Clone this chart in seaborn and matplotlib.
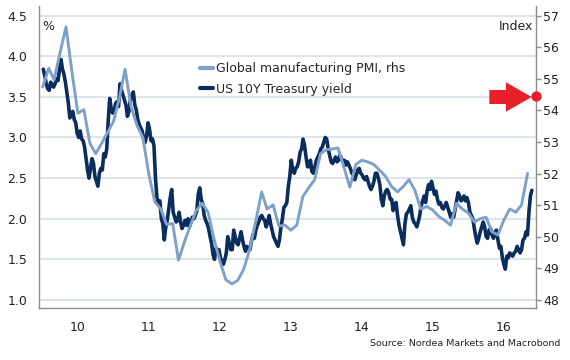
import numpy as np
import pandas as pd
import matplotlib
matplotlib.use("Agg")
import matplotlib.pyplot as plt
import matplotlib.dates as mdates
from matplotlib.lines import Line2D
from matplotlib.patches import FancyArrow
import seaborn as sns

# global manufacturing PMI, monthly Jan 2010 - Nov 2016 (index, rhs)
pmi_2010 = [54.74, 55.33, 54.97, 55.84, 56.64, 55.20, 53.91, 54.02, 52.96, 52.63, 52.96, 53.30]
pmi_2011 = [53.66, 54.43, 55.30, 54.12, 53.53, 53.14, 51.99, 51.11, 50.88, 50.39, 50.42, 49.26]
pmi_2012 = [49.85, 50.37, 50.83, 51.06, 50.78, 49.93, 49.23, 48.64, 48.51, 48.62, 48.98, 49.59]
pmi_2013 = [50.47, 51.42, 50.88, 51.01, 50.34, 50.37, 50.21, 50.37, 51.27, 51.55, 51.81, 52.63]
pmi_2014 = [52.76, 52.78, 52.81, 52.19, 51.57, 52.29, 52.42, 52.37, 52.29, 52.11, 51.91, 51.60]
pmi_2015 = [51.42, 51.60, 51.81, 51.47, 50.88, 50.96, 50.85, 50.65, 50.52, 50.37, 51.06, 50.88]
pmi_2016 = [50.75, 50.47, 50.57, 50.62, 50.16, 50.06, 50.52, 50.88, 50.78, 51.01, 52.01]

# US 10Y Treasury yield, roughly weekly (%)
yld_2010 = [3.84, 3.76, 3.66, 3.60, 3.58, 3.68, 3.64, 3.62, 3.66, 3.72, 3.70, 3.84,
            3.96, 3.84, 3.78, 3.68, 3.55, 3.42, 3.24, 3.30, 3.32, 3.22, 3.18, 3.05,
            3.00, 3.08, 2.98, 2.96, 2.88, 2.74, 2.60, 2.50, 2.62, 2.74, 2.68, 2.52,
            2.46, 2.40, 2.56, 2.62, 2.60, 2.80, 2.76, 2.86, 3.20, 3.48, 3.36, 3.30]
yld_2011 = [3.32, 3.42, 3.44, 3.38, 3.66, 3.58, 3.52, 3.46, 3.40, 3.26, 3.32, 3.46,
            3.52, 3.56, 3.40, 3.34, 3.22, 3.16, 3.12, 3.08, 2.98, 2.94, 3.02, 3.18,
            3.10, 2.96, 2.98, 2.90, 2.50, 2.26, 2.20, 2.22, 2.00, 1.94, 1.74, 1.90,
            1.98, 2.12, 2.26, 2.36, 2.08, 2.02, 1.96, 1.98, 2.08, 1.96, 1.88, 1.92]
yld_2012 = [1.98, 1.92, 2.00, 1.90, 1.96, 2.02, 2.00, 2.04, 2.10, 2.30, 2.38, 2.24,
            2.18, 2.04, 1.98, 1.94, 1.88, 1.78, 1.70, 1.56, 1.50, 1.64, 1.60, 1.62,
            1.52, 1.48, 1.44, 1.50, 1.58, 1.78, 1.70, 1.62, 1.62, 1.86, 1.78, 1.70,
            1.68, 1.76, 1.84, 1.74, 1.66, 1.60, 1.66, 1.64, 1.62, 1.72, 1.80, 1.76]
yld_2013 = [1.86, 1.92, 1.96, 2.02, 2.04, 2.00, 1.98, 1.90, 1.96, 2.04, 1.94, 1.86,
            1.78, 1.74, 1.70, 1.66, 1.74, 1.90, 2.00, 2.14, 2.16, 2.20, 2.40, 2.52,
            2.72, 2.60, 2.56, 2.62, 2.64, 2.70, 2.82, 2.86, 2.98, 2.90, 2.76, 2.64,
            2.64, 2.72, 2.58, 2.56, 2.64, 2.72, 2.76, 2.80, 2.86, 2.88, 2.94, 3.00]
yld_2014 = [2.98, 2.86, 2.78, 2.70, 2.68, 2.72, 2.76, 2.70, 2.72, 2.78, 2.74, 2.70,
            2.72, 2.66, 2.70, 2.66, 2.62, 2.56, 2.54, 2.48, 2.54, 2.60, 2.62, 2.56,
            2.54, 2.50, 2.48, 2.52, 2.46, 2.40, 2.36, 2.40, 2.46, 2.56, 2.56, 2.50,
            2.42, 2.24, 2.16, 2.28, 2.34, 2.36, 2.32, 2.24, 2.24, 2.10, 2.18, 2.20]
yld_2015 = [2.04, 1.92, 1.84, 1.76, 1.68, 1.94, 2.06, 2.08, 2.12, 2.16, 2.02, 1.96,
            1.94, 1.90, 1.96, 2.04, 2.16, 2.22, 2.28, 2.20, 2.34, 2.42, 2.36, 2.46,
            2.38, 2.30, 2.34, 2.24, 2.18, 2.20, 2.14, 2.12, 2.16, 2.20, 2.14, 2.08,
            2.02, 2.06, 2.02, 2.12, 2.22, 2.32, 2.28, 2.22, 2.24, 2.28, 2.22, 2.26]
yld_2016 = [2.20, 2.08, 2.04, 2.00, 1.88, 1.78, 1.70, 1.76, 1.84, 1.90, 1.96, 1.90,
            1.78, 1.76, 1.86, 1.88, 1.80, 1.76, 1.84, 1.86, 1.74, 1.64, 1.66, 1.52,
            1.44, 1.38, 1.54, 1.52, 1.58, 1.56, 1.54, 1.58, 1.60, 1.66, 1.62, 1.58,
            1.62, 1.74, 1.76, 1.84, 1.80, 2.08, 2.28, 2.35]

pmi_marker = 54.45  # red dot on the right axis

pmi = pmi_2010 + pmi_2011 + pmi_2012 + pmi_2013 + pmi_2014 + pmi_2015 + pmi_2016
us10y = yld_2010 + yld_2011 + yld_2012 + yld_2013 + yld_2014 + yld_2015 + yld_2016

df_pmi = pd.DataFrame({"date": pd.date_range("2010-01-01", periods=len(pmi), freq="MS"),
                       "value": pmi})
df_yld = pd.DataFrame({"date": pd.date_range("2010-01-04", "2016-11-23", periods=len(us10y)),
                       "value": us10y})

sns.set_style("white")
plt.rcParams["font.family"] = ["DejaVu Sans"]

navy = "#0b2d5e"
light = "#7ea1c9"
grey = "#8c8c8c"
red = "#e8202a"

fig = plt.figure(figsize=(5.7, 3.6), dpi=100)
ax = fig.add_axes([0.0684, 0.1444, 0.8719, 0.8389])
ax2 = ax.twinx()

sns.lineplot(data=df_yld, x="date", y="value", ax=ax, color=navy, lw=2.6, legend=False)
sns.lineplot(data=df_pmi, x="date", y="value", ax=ax2, color=light, lw=2.1, legend=False)

lo, hi = 0.902, 4.617
ax.set_ylim(lo, hi)
ax2.set_ylim(48 + (lo - 1) * 9 / 3.5, 48 + (hi - 1) * 9 / 3.5)
ax.set_xlim(pd.Timestamp("2009-12-13"), pd.Timestamp("2016-12-14"))

ax.set_yticks(np.arange(1.0, 4.51, 0.5))
ax.set_yticklabels([f"{v:.1f}" for v in np.arange(1.0, 4.51, 0.5)])
ax2.set_yticks(range(48, 58))

ax.xaxis.set_major_locator(mdates.YearLocator())
ax.xaxis.set_major_formatter(plt.NullFormatter())
ax.xaxis.set_minor_locator(mdates.MonthLocator(bymonth=7))
ax.xaxis.set_minor_formatter(mdates.DateFormatter("%y"))

for a in (ax, ax2):
    a.set_xlabel("")
    a.set_ylabel("")

ax.grid(axis="y", color="#dde4ec", lw=1.4)
ax.set_axisbelow(True)

ax.tick_params(axis="y", length=0, pad=8.5, labelsize=9, labelcolor="#222222")
ax.tick_params(axis="x", which="major", length=4, width=1, color=grey, direction="out")
ax.tick_params(axis="x", which="minor", length=0, pad=9, labelsize=9, labelcolor="#222222")
ax2.tick_params(axis="y", length=3.5, width=1, color=grey, pad=1.5, labelsize=9,
                labelcolor="#222222")

ax.spines["top"].set_visible(False)
ax.spines["right"].set_visible(False)
for s in ("left", "bottom"):
    ax.spines[s].set_color(grey)
    ax.spines[s].set_linewidth(1)
for s in ("top", "left", "bottom"):
    ax2.spines[s].set_visible(False)
ax2.spines["right"].set_color(grey)
ax2.spines["right"].set_linewidth(1)

handles = [Line2D([], [], color=light, lw=3), Line2D([], [], color=navy, lw=3)]
ax2.legend(handles, ["Global manufacturing PMI, rhs", "US 10Y Treasury yield"],
           loc="upper left", bbox_to_anchor=(200 / 570, 1 - 62 / 360),
           bbox_transform=fig.transFigure, frameon=False, fontsize=9,
           handlelength=1.0, handletextpad=0.25, borderpad=0, borderaxespad=0,
           labelspacing=0.62)

fig.text(42 / 570, 1 - 27 / 360, "%", ha="left", va="center", fontsize=9, color="#222222")
fig.text(533 / 570, 1 - 27 / 360, "Index", ha="right", va="center", fontsize=9, color="#222222")
fig.text(560 / 570, 1 - 344 / 360, "Source: Nordea Markets and Macrobond",
         ha="right", va="center", fontsize=6.8, color="#222222")

# red arrow pointing at the marker
fig.add_artist(FancyArrow(489.3 / 570, 1 - 97 / 360, (531.7 - 489.3) / 570, 0,
                          width=14 / 360, head_width=29.4 / 360, head_length=25.7 / 570,
                          length_includes_head=True, color=red, lw=0,
                          transform=fig.transFigure))
ax2.scatter([pd.Timestamp("2016-12-14")], [pmi_marker], s=55, color=red,
            clip_on=False, zorder=5, linewidths=0)

fig.savefig("out.png", dpi=100)
